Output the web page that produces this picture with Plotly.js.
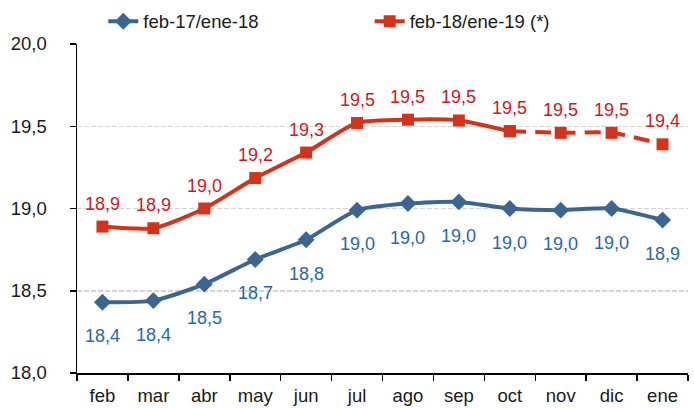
<!DOCTYPE html>
<html>
<head>
<meta charset="utf-8">
<script src="https://cdn.plot.ly/plotly-3.0.1.min.js"></script>
<style>html,body{margin:0;padding:0;background:#fff;}#chart{width:694px;height:408px;}</style>
</head>
<body>
<div id="chart"></div>
<script>
const months = ["feb","mar","abr","may","jun","jul","ago","sep","oct","nov","dic","ene"];
const serie2017 = [18.43, 18.44, 18.54, 18.69, 18.81, 18.99, 19.03, 19.04, 19.00, 18.99, 19.00, 18.93];
const serie2018 = [18.89, 18.88, 19.00, 19.185, 19.34, 19.52, 19.54, 19.535, 19.47, 19.46, 19.46, 19.39];
const name2017 = "feb-17/ene-18";
const name2018 = "feb-18/ene-19 (*)";
const provisionalFrom = 8; // index of "oct": dashed from here on

const blueLine = "#3b6592", blueText = "#2369ad";
const redLine = "#d6321a", redText = "#d0161d";
const fmt = v => v.toFixed(1).replace(".", ",");

const traces = [
  {
    x: months, y: serie2017, name: name2017, type: "scatter", mode: "lines+markers",
    legend: "legend",
    line: {color: blueLine, width: 4, shape: "spline", smoothing: 0.6},
    marker: {symbol: "diamond", size: 13, color: blueLine}
  },
  {
    x: months.slice(0, provisionalFrom + 1), y: serie2018.slice(0, provisionalFrom + 1),
    name: name2018, type: "scatter", mode: "lines+markers",
    legend: "legend2",
    line: {color: redLine, width: 4, shape: "spline", smoothing: 0.6},
    marker: {symbol: "square", size: 12, color: redLine}
  },
  {
    x: months.slice(provisionalFrom), y: serie2018.slice(provisionalFrom),
    name: name2018, showlegend: false, type: "scatter", mode: "lines+markers",
    line: {color: redLine, width: 4, shape: "spline", smoothing: 0.6, dash: "16px,9px"},
    marker: {symbol: "square", size: 12, color: redLine}
  }
];

const annotations = [];
months.forEach((m, i) => {
  annotations.push({x: m, y: serie2017[i], xref: "x", yref: "y", text: fmt(serie2017[i]),
    showarrow: false, yshift: -34, font: {color: blueText, size: 18}});
  annotations.push({x: m, y: serie2018[i], xref: "x", yref: "y", text: fmt(serie2018[i]),
    showarrow: false, yshift: 23, font: {color: redText, size: 18}});
});

const legendBase = {orientation: "h", y: 1.01, yanchor: "bottom", bgcolor: "rgba(0,0,0,0)",
  font: {size: 18.5, color: "#1a1a1a"}};

const layout = {
  width: 694, height: 408,
  margin: {l: 77, r: 6, t: 44, b: 35, autoexpand: false},
  paper_bgcolor: "#fff", plot_bgcolor: "#fff",
  font: {family: "Liberation Sans, Arial, sans-serif", size: 18.5, color: "#1a1a1a"},
  separators: ",.",
  showlegend: true,
  legend: Object.assign({x: 0.043, xanchor: "left"}, legendBase),
  legend2: Object.assign({x: 0.479, xanchor: "left"}, legendBase),
  xaxis: {type: "category", range: [-0.5, 11.5], tickson: "boundaries",
    ticks: "outside", ticklen: 6, tickcolor: "#000", tickwidth: 1.5,
    ticklabelstandoff: 5,
    showline: true, linecolor: "#000", linewidth: 1.5, showgrid: false, zeroline: false,
    fixedrange: true},
  yaxis: {range: [18.0, 20.0], dtick: 0.5, tickformat: ".1f",
    ticks: "outside", ticklen: 6, tickcolor: "#000", tickwidth: 1.5,
    ticklabelstandoff: 19,
    showline: true, linecolor: "#000", linewidth: 1.5,
    showgrid: true, gridcolor: "#d4d4d4", griddash: "5px,2px", gridwidth: 1.5, zeroline: false,
    fixedrange: true},
  annotations: annotations
};

Plotly.newPlot("chart", traces, layout, {displayModeBar: false, staticPlot: true});
</script>
</body>
</html>
